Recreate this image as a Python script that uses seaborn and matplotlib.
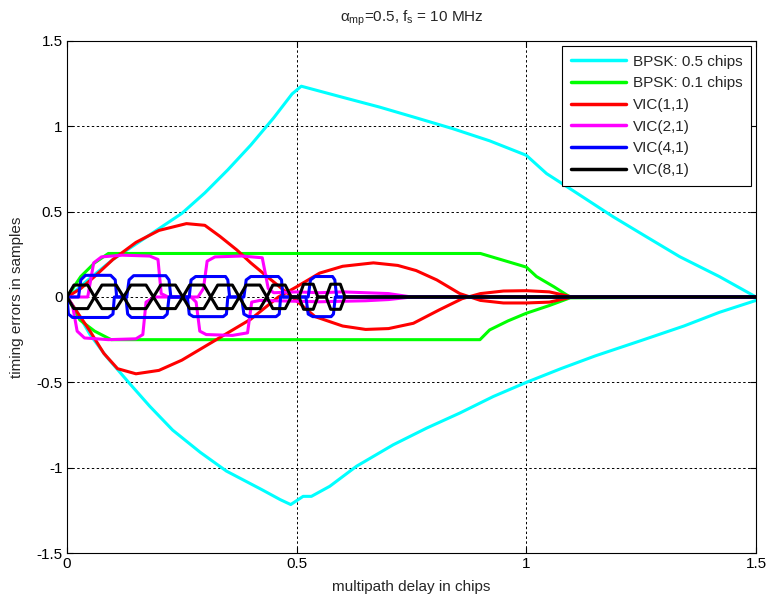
import numpy as np
import pandas as pd
import seaborn as sns
import matplotlib
matplotlib.use("Agg")
import matplotlib.pyplot as plt

# ---- multipath error envelopes (upper and lower branches) ----
# BPSK, 0.5 chips correlator spacing
bpsk05_up_x = [0, 0.02, 0.05, 0.1, 0.15, 0.2, 0.25, 0.3, 0.35, 0.4, 0.45, 0.49, 0.51,
               0.6, 0.68, 0.76, 0.84, 0.92, 1.0, 1.044, 1.1, 1.189, 1.26, 1.334, 1.42, 1.5]
bpsk05_up_y = [0, 0.04, 0.11, 0.22, 0.31, 0.40, 0.49, 0.61, 0.745, 0.89, 1.05, 1.19, 1.235,
               1.17, 1.113, 1.05, 0.986, 0.915, 0.83, 0.723, 0.626, 0.47, 0.355, 0.236, 0.12, 0.0]
bpsk05_lo_x = [0, 0.02, 0.05, 0.086, 0.134, 0.18, 0.23, 0.29, 0.347, 0.425, 0.464, 0.487,
               0.514, 0.532, 0.572, 0.63, 0.71, 0.783, 0.855, 0.928, 1.0, 1.075, 1.15,
               1.25, 1.343, 1.42, 1.5]
bpsk05_lo_y = [0, -0.08, -0.22, -0.35, -0.5, -0.64, -0.78, -0.91, -1.02, -1.13, -1.187, -1.216,
               -1.168, -1.168, -1.109, -0.992, -0.866, -0.768, -0.68, -0.583, -0.5, -0.42,
               -0.345, -0.255, -0.17, -0.09, -0.02]

# BPSK, 0.1 chips correlator spacing
bpsk01_up_x = [0, 0.03, 0.06, 0.09, 0.9, 0.95, 1.0, 1.022, 1.06, 1.095, 1.5]
bpsk01_up_y = [0, 0.12, 0.2, 0.255, 0.255, 0.215, 0.175, 0.12, 0.06, 0.0, 0.0]
bpsk01_lo_x = [0, 0.028, 0.06, 0.096, 0.899, 0.92, 0.96, 1.0, 1.05, 1.095, 1.5]
bpsk01_lo_y = [0, -0.135, -0.2, -0.25, -0.25, -0.193, -0.14, -0.095, -0.05, -0.005, 0.0]

# VIC(1,1)
vic11_a_x = [0, 0.03, 0.06, 0.1, 0.15, 0.2, 0.26, 0.3, 0.333, 0.37, 0.4, 0.44, 0.49, 0.54,
             0.6, 0.65, 0.7, 0.754, 0.81, 0.86, 0.9, 0.95, 1.0, 1.05, 1.1, 1.5]
vic11_a_y = [0, 0.05, 0.12, 0.22, 0.32, 0.39, 0.43, 0.42, 0.355, 0.275, 0.2, 0.11, 0.0, -0.115,
             -0.17, -0.19, -0.185, -0.154, -0.076, -0.01, 0.02, 0.035, 0.037, 0.03, 0.0, 0.0]
vic11_b_x = [0, 0.02, 0.05, 0.08, 0.11, 0.15, 0.2, 0.25, 0.3, 0.35, 0.4, 0.46, 0.5, 0.55,
             0.6, 0.667, 0.72, 0.76, 0.805, 0.855, 0.9, 0.95, 1.0, 1.05, 1.1, 1.5]
vic11_b_y = [0, -0.08, -0.2, -0.33, -0.42, -0.45, -0.43, -0.37, -0.29, -0.21, -0.13, 0.0, 0.06,
             0.14, 0.18, 0.2, 0.185, 0.155, 0.1, 0.02, -0.02, -0.035, -0.035, -0.03, 0.0, 0.0]

# VIC(2,1)
vic21_a_x = [0, 0.045, 0.058, 0.075, 0.12, 0.18, 0.198, 0.205, 0.22, 0.285, 0.297, 0.305,
             0.322, 0.38, 0.425, 0.438, 0.45, 0.5, 0.55, 0.6, 0.65, 0.7, 0.75, 1.5]
vic21_a_y = [0, 0.0, 0.2, 0.235, 0.245, 0.24, 0.22, 0.02, 0.0, 0.0, 0.05, 0.21, 0.235,
             0.24, 0.23, 0.05, 0.025, 0.03, 0.025, 0.03, 0.025, 0.02, 0.0, 0.0]
vic21_b_x = [0, 0.012, 0.022, 0.038, 0.09, 0.15, 0.165, 0.172, 0.19, 0.27, 0.281, 0.289,
             0.303, 0.36, 0.393, 0.402, 0.42, 0.5, 0.55, 0.6, 0.65, 0.7, 0.75, 1.5]
vic21_b_y = [0, -0.05, -0.2, -0.24, -0.25, -0.245, -0.22, -0.03, 0.0, 0.0, -0.03, -0.2,
             -0.22, -0.225, -0.21, -0.03, -0.02, -0.025, -0.028, -0.025, -0.022, -0.015, 0.0, 0.0]

# VIC(4,1)
vic41_a_x = [0, 0.025, 0.03, 0.04, 0.095, 0.105, 0.108, 0.13, 0.135, 0.145, 0.215, 0.222,
             0.226, 0.266, 0.27, 0.28, 0.345, 0.35, 0.354, 0.385, 0.39, 0.4, 0.46, 0.467,
             0.47, 0.525, 0.53, 0.54, 0.578, 0.583, 0.587, 1.5]
vic41_a_y = [0, 0.0, 0.1, 0.127, 0.127, 0.1, 0.0, 0.0, 0.1, 0.125, 0.125, 0.1,
             0.0, 0.0, 0.1, 0.12, 0.12, 0.1, 0.0, 0.0, 0.1, 0.12, 0.12, 0.1,
             0.0, 0.0, 0.1, 0.12, 0.12, 0.1, 0.0, 0.0]
vic41_b_x = [0, 0.003, 0.012, 0.09, 0.1, 0.103, 0.128, 0.132, 0.14, 0.21, 0.218, 0.222,
             0.262, 0.266, 0.275, 0.34, 0.347, 0.35, 0.38, 0.385, 0.395, 0.455, 0.462,
             0.465, 0.52, 0.525, 0.535, 0.575, 0.58, 0.584, 1.5]
vic41_b_y = [0, -0.1, -0.12, -0.12, -0.1, 0.0, 0.0, -0.1, -0.12, -0.12, -0.1, 0.0,
             0.0, -0.1, -0.115, -0.115, -0.1, 0.0, 0.0, -0.1, -0.115, -0.115, -0.1,
             0.0, 0.0, -0.1, -0.115, -0.115, -0.1, 0.0, 0.0]

# VIC(8,1)
vic81_a_x = [0, 0.015, 0.045, 0.06, 0.076, 0.107, 0.123, 0.139, 0.172, 0.188, 0.204, 0.236,
             0.252, 0.267, 0.298, 0.313, 0.328, 0.36, 0.375, 0.39, 0.42, 0.435, 0.448,
             0.475, 0.488, 0.505, 0.515, 0.536, 0.546, 0.564, 0.574, 0.595, 0.605, 1.5]
vic81_a_y = [0, 0.07, 0.07, 0.0, 0.07, 0.07, 0.0, 0.07, 0.07, 0.0, 0.07, 0.07,
             0.0, 0.07, 0.07, 0.0, 0.07, 0.07, 0.0, 0.07, 0.07, 0.0, 0.07,
             0.07, 0.0, 0.0, 0.075, 0.075, 0.0, 0.0, 0.075, 0.075, 0.0, 0.0]
vic81_b_x = vic81_a_x
vic81_b_y = [0, -0.068, -0.068, 0.0, -0.068, -0.068, 0.0, -0.068, -0.068, 0.0, -0.068, -0.068,
             0.0, -0.068, -0.068, 0.0, -0.068, -0.068, 0.0, -0.068, -0.068, 0.0, -0.068,
             -0.068, 0.0, 0.0, -0.072, -0.072, 0.0, 0.0, -0.072, -0.072, 0.0, 0.0]

series_names = ["BPSK: 0.5 chips", "BPSK: 0.1 chips", "VIC(1,1)", "VIC(2,1)", "VIC(4,1)", "VIC(8,1)"]
series_colors = ["#00FFFF", "#00FF00", "#FF0000", "#FF00FF", "#0000FF", "#000000"]
branches = [
    [(bpsk05_up_x, bpsk05_up_y), (bpsk05_lo_x, bpsk05_lo_y)],
    [(bpsk01_up_x, bpsk01_up_y), (bpsk01_lo_x, bpsk01_lo_y)],
    [(vic11_a_x, vic11_a_y), (vic11_b_x, vic11_b_y)],
    [(vic21_a_x, vic21_a_y), (vic21_b_x, vic21_b_y)],
    [(vic41_a_x, vic41_a_y), (vic41_b_x, vic41_b_y)],
    [(vic81_a_x, vic81_a_y), (vic81_b_x, vic81_b_y)],
]

x_ticks = [0, 0.5, 1, 1.5]
x_tick_labels = ["0", "0.5", "1", "1.5"]
y_ticks = [-1.5, -1, -0.5, 0, 0.5, 1, 1.5]
y_tick_labels = ["-1.5", "-1", "-0.5", "0", "0.5", "1", "1.5"]

sns.set_theme(style="white")
plt.rcParams["font.family"] = ["Liberation Sans", "DejaVu Sans"]
plt.rcParams["mathtext.fontset"] = "custom"
plt.rcParams["mathtext.rm"] = "Liberation Sans"
plt.rcParams["mathtext.it"] = "Liberation Sans"

FS = 11

fig = plt.figure(figsize=(7.67, 6.0), dpi=100)
ax = fig.add_axes([0.0874, 0.0783, 0.8983, 0.8534])

for name, color, pair in zip(series_names, series_colors, branches):
    for k, (bx, by) in enumerate(pair):
        df = pd.DataFrame({"delay": bx, "err": by})
        sns.lineplot(data=df, x="delay", y="err", sort=False, estimator=None,
                     color=color, linewidth=2.2, ax=ax,
                     label=name if k == 0 else None)

ax.set_xlim(0, 1.5)
ax.set_ylim(-1.5, 1.5)
ax.set_xticks(x_ticks)
ax.set_xticklabels(x_tick_labels)
ax.set_yticks(y_ticks)
ax.set_yticklabels(y_tick_labels)
ax.tick_params(direction="in", length=4, width=0.8, colors="black", labelsize=FS,
               top=True, right=True, bottom=True, left=True, pad=3)
for side in ["top", "right", "bottom", "left"]:
    ax.spines[side].set_color("black")
    ax.spines[side].set_linewidth(0.8)
ax.grid(True, color="black", linestyle=(0, (2.5, 2.5)), linewidth=0.7)
ax.set_axisbelow(True)

ax.set_xlabel("multipath delay in chips", fontsize=FS, labelpad=6)
ax.set_ylabel("timing errors in samples", fontsize=FS, labelpad=9)
ax.set_title(r"$\alpha_{\rm mp}$=0.5, $f_{\rm s}$ = 10 MHz", fontsize=FS, pad=14)

leg = ax.legend(loc="upper right", fontsize=FS, frameon=True, fancybox=False,
                edgecolor="black", framealpha=1, handlelength=3.6, handletextpad=0.45,
                labelspacing=0.5, borderpad=0.6, borderaxespad=0.3)
leg.get_frame().set_linewidth(0.8)
for line in leg.get_lines():
    line.set_linewidth(2.5)

fig.savefig("out.png", dpi=100)
